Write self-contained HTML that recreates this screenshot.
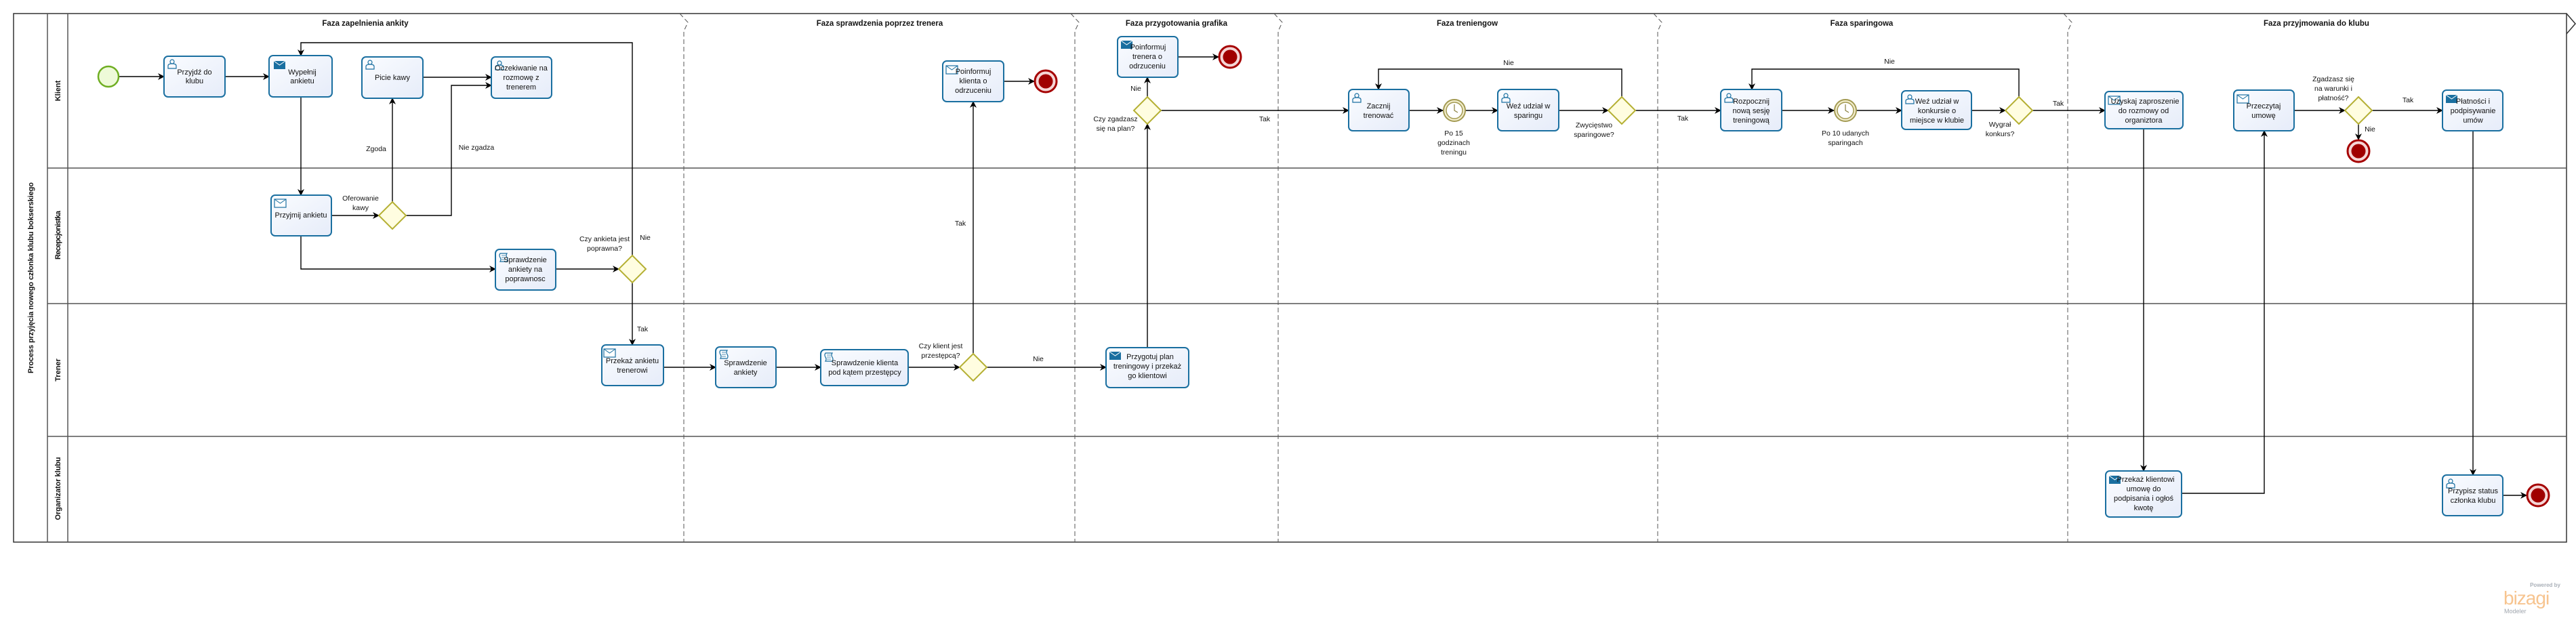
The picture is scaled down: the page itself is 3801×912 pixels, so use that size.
<!DOCTYPE html>
<html><head><meta charset="utf-8"><style>
html,body{margin:0;padding:0;background:#fff;}
svg{display:block;}
text{font-family:"Liberation Sans",sans-serif;fill:#111;}
.t{font-size:11px;text-anchor:middle;}
.l{font-size:10.5px;text-anchor:middle;}
.ph{font-size:11.5px;font-weight:bold;text-anchor:middle;}
.ln{font-size:11px;font-weight:bold;text-anchor:middle;}
.c{fill:none;stroke:#000;stroke-width:1.4;}
.task{fill:url(#tg);stroke:#1a6fa0;stroke-width:2;}
.gw{fill:#fffde0;stroke:#b5b034;stroke-width:2;}
.sep{stroke:#555;stroke-width:1;stroke-dasharray:7,4;fill:none;}
.lane{stroke:#555;stroke-width:1.5;fill:none;}
</style></head><body>
<svg width="3801" height="912" viewBox="0 0 3801 912" xmlns="http://www.w3.org/2000/svg">
<defs>
<linearGradient id="tg" x1="0" y1="0" x2="1" y2="1"><stop offset="0" stop-color="#fafcff"/><stop offset="1" stop-color="#e6ecf9"/></linearGradient>
<marker id="a" markerWidth="10" markerHeight="10" refX="9" refY="5" orient="auto" markerUnits="userSpaceOnUse"><path d="M0,0 L10,5 L0,10 L3,5 Z" fill="#000"/></marker>
<g id="user"><circle cx="7" cy="4" r="3" fill="none" stroke="#1a6fa0" stroke-width="1.2"/><path d="M1,14 L1,10 Q1,7 7,7 Q13,7 13,10 L13,14 Z" fill="none" stroke="#1a6fa0" stroke-width="1.2"/></g>
<g id="send"><rect x="0" y="0" width="17" height="12" fill="#1a6fa0"/><path d="M0,0 L8.5,6 L17,0" fill="none" stroke="#fff" stroke-width="1"/></g>
<g id="recv"><rect x="0" y="0" width="17" height="12" fill="#fff" stroke="#1a6fa0" stroke-width="1.2"/><path d="M0,0 L8.5,6 L17,0" fill="none" stroke="#1a6fa0" stroke-width="1"/></g>
<g id="scr"><path d="M2,0 H12 Q10,3 12,6 Q14,9 12,12 H2 Q4,9 2,6 Q0,3 2,0 Z" fill="#fff" stroke="#1a6fa0" stroke-width="1.2"/><path d="M4,3H10M4,6H10M4,9H10" stroke="#1a6fa0" stroke-width="0.8"/></g>
<g id="end"><circle r="16" fill="#f5d6d6" stroke="#a50000" stroke-width="3"/><circle r="10.5" fill="#a00000"/></g>
<g id="timer"><circle r="16" fill="#f2edcc" stroke="#a39a52" stroke-width="2"/><circle r="12" fill="#fff" stroke="#a39a52" stroke-width="1.5"/><path d="M0,-9V0L5,3" stroke="#8a8040" stroke-width="1.2" fill="none"/></g>
</defs>

<!-- pool -->
<rect x="20" y="20" width="3767" height="780" fill="none" stroke="#333" stroke-width="1.5"/>
<line x1="70" y1="20" x2="70" y2="800" class="lane"/>
<line x1="100" y1="20" x2="100" y2="800" class="lane"/>
<line x1="70" y1="248" x2="3787" y2="248" class="lane"/>
<line x1="70" y1="448" x2="3787" y2="448" class="lane"/>
<line x1="70" y1="644" x2="3787" y2="644" class="lane" stroke-width="2"/>
<text class="ln" transform="translate(49,410) rotate(-90)" textLength="282" lengthAdjust="spacing">Process przyjęcia nowego członka klubu bokserskiego</text>
<text class="ln" transform="translate(89,134) rotate(-90)">Klient</text>
<text class="ln" transform="translate(89,347) rotate(-90)" textLength="72" lengthAdjust="spacing">Recepcjonistka</text>
<text class="ln" transform="translate(89,546) rotate(-90)">Trener</text>
<text class="ln" transform="translate(89,721) rotate(-90)" textLength="93" lengthAdjust="spacing">Organizator klubu</text>

<!-- phase separators -->
<g class="sep">
<path d="M1003,20 L1015,33 L1009,46 V800"/>
<path d="M1580,20 L1592,33 L1586,46 V800"/>
<path d="M1880,20 L1892,33 L1886,46 V800"/>
<path d="M2440,20 L2452,33 L2446,46 V800"/>
<path d="M3045,20 L3057,33 L3051,46 V800"/>
</g>
<path d="M3787,20 L3800,35 L3787,50" fill="none" stroke="#333" stroke-width="1.5"/>
<text class="ph" x="539" y="38">Faza zapelnienia ankity</text>
<text class="ph" x="1298" y="38">Faza sprawdzenia poprzez trenera</text>
<text class="ph" x="1736" y="38">Faza przygotowania grafika</text>
<text class="ph" x="2165" y="38">Faza treniengow</text>
<text class="ph" x="2747" y="38">Faza sparingowa</text>
<text class="ph" x="3418" y="38">Faza przyjmowania do klubu</text>

<!-- connectors -->
<g class="c" marker-end="url(#a)">
<path d="M175,113 H242"/>
<path d="M332,113 H397"/>
<path d="M444,143 V288"/>
<path d="M489,318 H559"/>
<path d="M579,298 V145"/>
<path d="M599,318 H666 V126 H725"/>
<path d="M624,114 H725"/>
<path d="M444,348 V397 H731"/>
<path d="M820,397 H913"/>
<path d="M933,377 V63 H444 V82"/>
<path d="M933,417 V509"/>
<path d="M979,542 H1056"/>
<path d="M1145,542 H1211"/>
<path d="M1340,542 H1416"/>
<path d="M1436,522 V150"/>
<path d="M1456,542 H1632"/>
<path d="M1693,513 V183"/>
<path d="M1693,143 V114"/>
<path d="M1738,84 H1798"/>
<path d="M1481,120 H1526"/>
<path d="M1713,163 H1990"/>
<path d="M2079,163 H2129"/>
<path d="M2162,163 H2210"/>
<path d="M2300,163 H2373"/>
<path d="M2393,143 V102 H2034 V132"/>
<path d="M2413,163 H2539"/>
<path d="M2629,163 H2706"/>
<path d="M2739,163 H2806"/>
<path d="M2909,163 H2959"/>
<path d="M2979,143 V102 H2585 V132"/>
<path d="M2999,163 H3106"/>
<path d="M3163,190 V695"/>
<path d="M3219,728 H3341 V193"/>
<path d="M3385,163 H3460"/>
<path d="M3480,183 V206"/>
<path d="M3500,163 H3604"/>
<path d="M3649,193 V701"/>
<path d="M3693,731 H3728"/>
</g>

<!-- start -->
<circle cx="160" cy="113" r="15" fill="#eefad8" stroke="#6fae22" stroke-width="2.5"/>

<!-- tasks -->
<g>
<rect class="task" x="242" y="83" width="90" height="60" rx="6"/><use href="#user" x="247" y="87"/>
<text class="t" x="287" y="110">Przyjdź do</text><text class="t" x="287" y="123">klubu</text>

<rect class="task" x="397" y="82" width="93" height="61" rx="6"/><use href="#send" x="404" y="90"/>
<text class="t" x="446" y="110">Wypełnij</text><text class="t" x="446" y="123">ankietu</text>

<rect class="task" x="534" y="84" width="90" height="61" rx="6"/><use href="#user" x="539" y="88"/>
<text class="t" x="579" y="118">Picie kawy</text>

<rect class="task" x="725" y="84" width="89" height="61" rx="6"/><use href="#user" x="730" y="89"/>
<text class="t" x="769" y="104">Oczekiwanie na</text><text class="t" x="769" y="118">rozmowę z</text><text class="t" x="769" y="132">trenerem</text>

<rect class="task" x="400" y="288" width="89" height="60" rx="6"/><use href="#recv" x="405" y="294"/>
<text class="t" x="444" y="321">Przyjmij ankietu</text>

<rect class="task" x="731" y="368" width="89" height="60" rx="6"/><use href="#scr" x="736" y="374"/>
<text class="t" x="775" y="387">Sprawdzenie</text><text class="t" x="775" y="401">ankiety na</text><text class="t" x="775" y="415">poprawnosc</text>

<rect class="task" x="888" y="509" width="91" height="60" rx="6"/><use href="#recv" x="891" y="515"/>
<text class="t" x="933" y="536">Przekaż ankietu</text><text class="t" x="933" y="550">trenerowi</text>

<rect class="task" x="1056" y="512" width="89" height="60" rx="6"/><use href="#scr" x="1061" y="517"/>
<text class="t" x="1100" y="539">Sprawdzenie</text><text class="t" x="1100" y="553">ankiety</text>

<rect class="task" x="1211" y="516" width="129" height="53" rx="6"/><use href="#scr" x="1216" y="521"/>
<text class="t" x="1276" y="539">Sprawdzenie klienta</text><text class="t" x="1276" y="553">pod kątem przestępcy</text>

<rect class="task" x="1632" y="513" width="122" height="59" rx="6"/><use href="#send" x="1637" y="519"/>
<text class="t" x="1697" y="530">Przygotuj plan</text><text class="t" x="1693" y="544">treningowy i przekaż</text><text class="t" x="1693" y="558">go klientowi</text>

<rect class="task" x="1391" y="90" width="90" height="60" rx="6"/><use href="#recv" x="1396" y="97"/>
<text class="t" x="1436" y="109">Poinformuj</text><text class="t" x="1436" y="123">klienta o</text><text class="t" x="1436" y="137">odrzuceniu</text>

<rect class="task" x="1649" y="54" width="89" height="60" rx="6"/><use href="#send" x="1654" y="60"/>
<text class="t" x="1694" y="73">Poinformuj</text><text class="t" x="1693" y="87">trenera o</text><text class="t" x="1693" y="101">odrzuceniu</text>

<rect class="task" x="1990" y="132" width="89" height="61" rx="6"/><use href="#user" x="1995" y="137"/>
<text class="t" x="2034" y="160">Zacznij</text><text class="t" x="2034" y="174">trenować</text>

<rect class="task" x="2210" y="132" width="90" height="61" rx="6"/><use href="#user" x="2215" y="137"/>
<text class="t" x="2255" y="160">Weź udział w</text><text class="t" x="2255" y="174">sparingu</text>

<rect class="task" x="2539" y="132" width="90" height="61" rx="6"/><use href="#user" x="2544" y="137"/>
<text class="t" x="2584" y="153">Rozpocznij</text><text class="t" x="2584" y="167">nową sesję</text><text class="t" x="2584" y="181">treningową</text>

<rect class="task" x="2806" y="134" width="103" height="57" rx="6"/><use href="#user" x="2811" y="139"/>
<text class="t" x="2858" y="153">Weź udział w</text><text class="t" x="2858" y="167">konkursie o</text><text class="t" x="2858" y="181">miejsce w klubie</text>

<rect class="task" x="3106" y="135" width="115" height="55" rx="6"/><use href="#recv" x="3111" y="142"/>
<text class="t" x="3165" y="153">Uzyskaj zaproszenie</text><text class="t" x="3163" y="167">do rozmowy od</text><text class="t" x="3163" y="181">organiztora</text>

<rect class="task" x="3296" y="133" width="89" height="60" rx="6"/><use href="#recv" x="3301" y="140"/>
<text class="t" x="3340" y="160">Przeczytaj</text><text class="t" x="3340" y="174">umowę</text>

<rect class="task" x="3604" y="133" width="89" height="60" rx="6"/><use href="#send" x="3609" y="140"/>
<text class="t" x="3649" y="153">Płatności i</text><text class="t" x="3649" y="167">podpisywanie</text><text class="t" x="3649" y="181">umów</text>

<rect class="task" x="3107" y="695" width="112" height="68" rx="6"/><use href="#send" x="3112" y="702"/>
<text class="t" x="3166" y="711">Przekaż klientowi</text><text class="t" x="3163" y="725">umowę do</text><text class="t" x="3163" y="739">podpisania i ogłoś</text><text class="t" x="3163" y="753">kwotę</text>

<rect class="task" x="3604" y="701" width="89" height="60" rx="6"/><use href="#user" x="3609" y="706"/>
<text class="t" x="3649" y="728">Przypisz status</text><text class="t" x="3649" y="742">członka klubu</text>
</g>

<!-- gateways -->
<g class="gw">
<path d="M579,298 L599,318 L579,338 L559,318 Z"/>
<path d="M933,377 L953,397 L933,417 L913,397 Z"/>
<path d="M1436,522 L1456,542 L1436,562 L1416,542 Z"/>
<path d="M1693,143 L1713,163 L1693,183 L1673,163 Z"/>
<path d="M2393,143 L2413,163 L2393,183 L2373,163 Z"/>
<path d="M2979,143 L2999,163 L2979,183 L2959,163 Z"/>
<path d="M3480,143 L3500,163 L3480,183 L3460,163 Z"/>
</g>

<!-- events -->
<use href="#end" x="1543" y="120"/>
<use href="#end" x="1815" y="84"/>
<use href="#end" x="3480" y="223"/>
<use href="#end" x="3745" y="731"/>
<use href="#timer" x="2146" y="163"/>
<use href="#timer" x="2723" y="163"/>

<!-- labels -->
<g class="l">
<text x="532" y="296">Oferowanie</text><text x="532" y="310">kawy</text>
<text x="555" y="223">Zgoda</text>
<text x="703" y="221">Nie zgadza</text>
<text x="892" y="356">Czy ankieta jest</text><text x="892" y="370">poprawna?</text>
<text x="952" y="354">Nie</text>
<text x="948" y="489">Tak</text>
<text x="1388" y="514">Czy klient jest</text><text x="1388" y="528">przestępcą?</text>
<text x="1417" y="333">Tak</text>
<text x="1532" y="533">Nie</text>
<text x="1646" y="179">Czy zgadzasz</text><text x="1646" y="193">się na plan?</text>
<text x="1676" y="134">Nie</text>
<text x="1866" y="179">Tak</text>
<text x="2145" y="200">Po 15</text><text x="2145" y="214">godzinach</text><text x="2145" y="228">treningu</text>
<text x="2352" y="188">Zwycięstwo</text><text x="2352" y="202">sparingowe?</text>
<text x="2226" y="96">Nie</text>
<text x="2483" y="178">Tak</text>
<text x="2723" y="200">Po 10 udanych</text><text x="2723" y="214">sparingach</text>
<text x="2788" y="94">Nie</text>
<text x="2951" y="187">Wygrał</text><text x="2951" y="201">konkurs?</text>
<text x="3037" y="156">Tak</text>
<text x="3443" y="120">Zgadzasz się</text><text x="3443" y="134">na warunki i</text><text x="3443" y="148">płatność?</text>
<text x="3553" y="151">Tak</text>
<text x="3497" y="194">Nie</text>
</g>

<!-- logo -->
<text x="3778" y="866" style="font-size:8px;font-weight:bold;fill:#aab0b8;text-anchor:end">Powered by</text>
<text x="3694" y="892" style="font-size:28px;fill:#f7c48f;letter-spacing:-1px">bizagi</text>
<text x="3695" y="905" style="font-size:9px;fill:#a0a6ae">Modeler</text>
</svg>
</body></html>
